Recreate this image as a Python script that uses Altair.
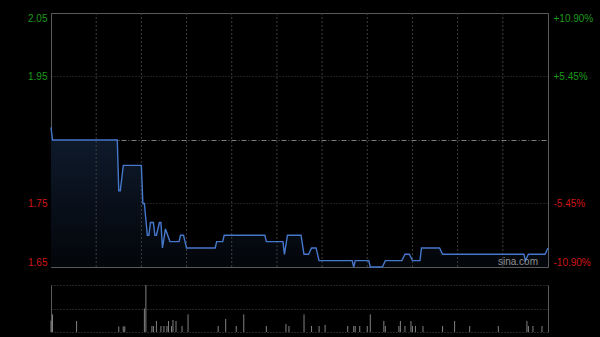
import altair as alt
import pandas as pd

# ---------------- data ----------------
PREV_CLOSE = 1.85
# price path: (minute index, price) points (HK session: 330 minutes)
price_minutes = [0, 1, 44, 45, 46, 48, 60, 61, 62, 64, 65, 66, 68, 69, 70, 72, 73, 74, 76,
                 79, 85, 86, 88, 90, 109, 110, 114, 115, 142, 143, 154, 155, 157, 166,
                 168, 171, 173, 176, 178, 200, 201, 202, 211, 212, 220, 222, 233, 235, 238,
                 240, 245, 246, 258, 260, 314, 315, 317, 328, 330]
price_values = [1.87, 1.85, 1.85, 1.77, 1.77, 1.81, 1.81, 1.75, 1.75, 1.70, 1.70, 1.72, 1.72,
                1.70, 1.70, 1.72, 1.72, 1.68, 1.71, 1.69, 1.69, 1.70, 1.70, 1.68, 1.68, 1.69,
                1.69, 1.70, 1.70, 1.69, 1.69, 1.67, 1.70, 1.70, 1.67, 1.67, 1.68, 1.68, 1.66,
                1.66, 1.65, 1.66, 1.66, 1.65, 1.65, 1.66, 1.66, 1.67, 1.67, 1.66, 1.66, 1.68,
                1.68, 1.67, 1.67, 1.66, 1.67, 1.67, 1.68]

vol_minutes = [0, 1, 17, 45, 48, 49, 62, 63, 67, 68, 70, 73, 75, 77, 78, 80, 81, 83, 87, 91,
               111, 116, 123, 128, 143, 156, 158, 168, 173, 178, 182, 197, 201, 202, 205, 210,
               212, 221, 222, 231, 232, 235, 239, 240, 242, 247, 260, 268, 278, 297, 316, 317,
               320, 326]
vol_values = [96, 150, 94, 48, 48, 48, 200, 400, 51, 51, 94, 51, 51, 51, 94, 51, 102, 94, 51,
              150, 51, 111, 51, 150, 51, 68, 51, 150, 51, 51, 60, 51, 51, 51, 51, 51, 150, 94,
              51, 51, 94, 51, 94, 51, 51, 51, 51, 94, 51, 51, 94, 51, 51, 51]

price_ticks = [1.65, 1.75, 1.85, 1.95, 2.05]
pct_ticks = [-0.109, -0.0545, 0.0, 0.0545, 0.109]
time_grid = [30, 60, 90, 120, 150, 180, 210, 240, 270, 300]
vol_grid = [0, 200, 400]

price_df = pd.DataFrame({"minute": price_minutes, "price": price_values})
vol_df = pd.DataFrame({"minute": vol_minutes, "vol": vol_values})
pct_df = pd.DataFrame({"pct": pct_ticks})
tgrid_df = pd.DataFrame({"minute": time_grid})

# ---------------- styling ----------------
FONT = "Liberation Sans"
GREEN = "#1a9a1a"
RED = "#d01515"
BORDER = "#5a5a5a"
GRID = "#3e3e3e"

PLOT_H = 254
TOTAL_H = 319
VOL_TOP = 272

x_enc = alt.X("minute:Q", scale=alt.Scale(domain=[0, 330], nice=False, zero=False), axis=None)
price_scale = alt.Scale(domain=[1.65, 2.05], range=[PLOT_H, 0], nice=False, zero=False)
pct_scale = alt.Scale(domain=[-0.109, 0.109], range=[PLOT_H, 0], nice=False, zero=False)
vol_scale = alt.Scale(domain=[0, 400], range=[TOTAL_H, VOL_TOP], nice=False, zero=False)

price_axis = alt.Axis(
    orient="left", values=price_ticks, title=None, ticks=False,
    domain=True, domainColor=BORDER, domainWidth=1,
    labelFont=FONT, labelFontSize=10, labelPadding=4, labelFlush=True,
    labelExpr="abs(datum.value - 1.85) < 0.001 ? '' : format(datum.value, '.2f')",
    labelColor={"condition": {"test": "datum.value > 1.851", "value": GREEN}, "value": RED},
    grid=True,
    gridColor={"condition": [
        {"test": "abs(datum.value - 1.65) < 0.001 || abs(datum.value - 2.05) < 0.001", "value": BORDER},
        {"test": "abs(datum.value - 1.85) < 0.001", "value": "#7a7a7a"}], "value": GRID},
    gridDash={"condition": [
        {"test": "abs(datum.value - 1.65) < 0.001 || abs(datum.value - 2.05) < 0.001", "value": []},
        {"test": "abs(datum.value - 1.85) < 0.001", "value": [5, 2, 1, 2]}], "value": [1, 2]},
    gridWidth=1,
)

area = alt.Chart(price_df).mark_area(
    color=alt.Gradient(
        gradient="linear",
        stops=[alt.GradientStop(color="#0f1b2e", offset=0),
               alt.GradientStop(color="#03060a", offset=1)],
        x1=0, x2=0, y1=0, y2=1),
).encode(
    x=x_enc,
    y=alt.Y("price:Q", scale=price_scale, axis=price_axis),
    y2=alt.datum(1.65),
)

line = alt.Chart(price_df).mark_line(color="#4577cc", strokeWidth=1.4).encode(
    x=x_enc,
    y=alt.Y("price:Q", scale=price_scale, axis=None),
)

vgrid = alt.Chart(tgrid_df).mark_rule(color=GRID, strokeDash=[2, 2], strokeWidth=1).encode(
    x=x_enc,
    y=alt.Y(datum=1.65, scale=price_scale, axis=None),
    y2=alt.datum(2.05),
)

pct_axis_layer = alt.Chart(pct_df).mark_point(opacity=0).encode(
    y=alt.Y("pct:Q", scale=pct_scale, axis=alt.Axis(
        orient="right", values=pct_ticks, title=None, ticks=False, grid=False,
        domain=True, domainColor=BORDER, domainWidth=1,
        labelFont=FONT, labelFontSize=10, labelPadding=5, labelFlush=True,
        labelExpr="datum.value == 0 ? '' : (datum.value > 0 ? '+' : '-') + format(abs(datum.value) * 100, '.2f') + '%'",
        labelColor={"condition": {"test": "datum.value > 0", "value": GREEN}, "value": RED},
    )),
)

vol_bars = alt.Chart(vol_df).mark_rule(color="#808080", strokeWidth=1).encode(
    x=x_enc,
    y=alt.Y("vol:Q", scale=vol_scale, axis=alt.Axis(
        orient="left", values=vol_grid, title=None, ticks=False, labels=False,
        domain=True, domainColor=BORDER, domainWidth=1,
        grid=True, gridColor="#4a4a4a", gridDash=[1, 2], gridWidth=1)),
    y2=alt.datum(0),
)

vol_right = alt.Chart(vol_df).mark_point(opacity=0).encode(
    y=alt.Y("vol:Q", scale=vol_scale, axis=alt.Axis(
        orient="right", title=None, ticks=False, labels=False, grid=False,
        domain=True, domainColor=BORDER, domainWidth=1)),
)

watermark = alt.Chart(pd.DataFrame({"t": ["sina.com"]})).mark_text(
    font=FONT, fontSize=10, color="#a0a0a0", opacity=0.9, align="center", baseline="middle",
).encode(
    text="t:N",
    x=alt.value(467),
    y=alt.value(249),
)

chart = alt.layer(
    area, vgrid, line, pct_axis_layer, vol_bars, vol_right, watermark
).resolve_scale(y="independent").properties(
    width=497,
    height=TOTAL_H,
    background="#000000",
    padding={"left": 51, "top": 13, "right": 52, "bottom": 5},
    autosize=alt.AutoSizeParams(type="none"),
).configure_view(stroke=None)

chart.save("out.html", embed_options={"renderer": "svg", "actions": False})
